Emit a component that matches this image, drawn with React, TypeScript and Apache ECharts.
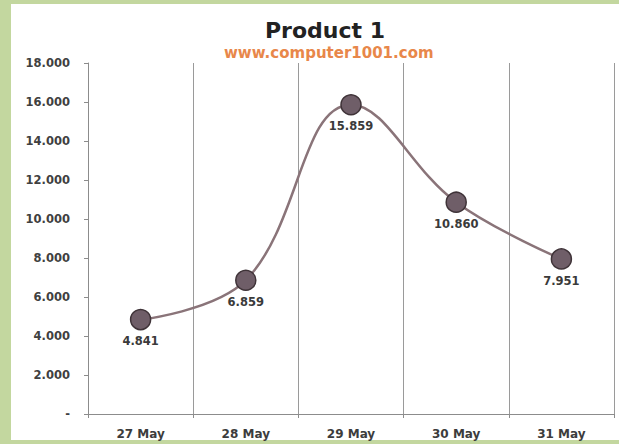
import React, { useEffect, useRef } from "react";
import * as echarts from "echarts";

// Daily figures for Product 1
const days: string[] = ["27 May", "28 May", "29 May", "30 May", "31 May"];
const sales: number[] = [4841, 6859, 15859, 10860, 7951];
const yTicks = { min: 0, max: 18000, step: 2000 };

const FONT = "DejaVu Sans";

// Thousands with a dot, zero shown as a dash (accounting style)
const fmt = (v: number): string =>
  v === 0 ? "-" : String(Math.round(v)).replace(/\B(?=(\d{3})+(?!\d))/g, ".");

export default function App() {
  const ref = useRef<HTMLDivElement>(null);

  useEffect(() => {
    if (!ref.current) return;
    const chart = echarts.init(ref.current, undefined, { renderer: "svg" });
    chart.setOption({
      animation: false,
      backgroundColor: "#c3d79f",
      graphic: [
        {
          type: "rect",
          silent: true,
          z: 0,
          shape: { x: 11, y: 4, width: 608, height: 436 },
          style: { fill: "#ffffff" },
        },
      ],
      title: [
        {
          text: "Product 1",
          left: 265,
          top: 19,
          padding: 0,
          textStyle: {
            fontFamily: FONT,
            fontWeight: "bold",
            fontSize: 22,
            color: "#222222",
          },
        },
        {
          text: "www.computer1001.com",
          left: 224,
          top: 45,
          padding: 0,
          textStyle: {
            fontFamily: FONT,
            fontWeight: "bold",
            fontSize: 15,
            color: "#e8874a",
          },
        },
      ],
      grid: { left: 88, right: 5, top: 63, bottom: 30, containLabel: false },
      xAxis: {
        type: "category",
        data: days,
        boundaryGap: true,
        axisLine: { show: true, lineStyle: { color: "#8c8c8c", width: 1 } },
        axisTick: { show: true, length: 4, lineStyle: { color: "#8c8c8c" } },
        splitLine: { show: true, lineStyle: { color: "#9a9a9a", width: 1 } },
        axisLabel: {
          margin: 14,
          fontFamily: FONT,
          fontWeight: "bold",
          fontSize: 12,
          color: "#3c3c3c",
        },
      },
      yAxis: {
        type: "value",
        min: yTicks.min,
        max: yTicks.max,
        interval: yTicks.step,
        axisLine: { show: true, lineStyle: { color: "#8c8c8c", width: 1 } },
        axisTick: { show: true, length: 4, lineStyle: { color: "#8c8c8c" } },
        splitLine: { show: false },
        axisLabel: {
          margin: 18,
          fontFamily: FONT,
          fontWeight: "bold",
          fontSize: 11.5,
          color: "#404040",
          formatter: (v: number) => fmt(v),
        },
      },
      series: [
        {
          type: "line",
          data: sales,
          smooth: 0.4,
          symbol: "circle",
          symbolSize: 20,
          lineStyle: { color: "#8a7479", width: 2.5 },
          itemStyle: { color: "#6f5e68", borderColor: "#3f3338", borderWidth: 1.5 },
          label: {
            show: true,
            position: "bottom",
            distance: 5,
            fontFamily: FONT,
            fontWeight: "bold",
            fontSize: 11.5,
            color: "#3a3a3a",
            formatter: (p: any) => fmt(p.value as number),
          },
          z: 3,
        },
      ],
    });
    return () => chart.dispose();
  }, []);

  return (
    <div
      ref={ref}
      style={{ position: "fixed", left: 0, top: 0, width: 619, height: 444 }}
    />
  );
}
